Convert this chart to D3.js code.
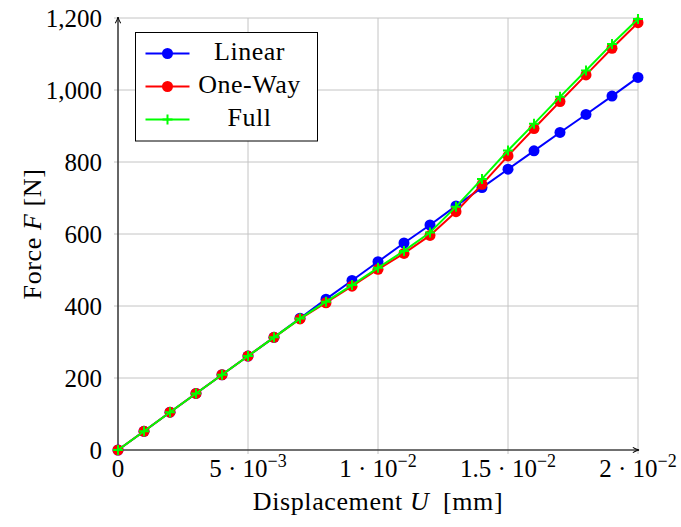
<!DOCTYPE html>
<html>
<head>
<meta charset="utf-8">
<script src="https://cdn.jsdelivr.net/npm/d3@7"></script>
<style>
  body { margin: 0; background: #fff; }
  svg text { font-family: "Liberation Serif", "DejaVu Serif", serif; fill: #000; }
</style>
</head>
<body>
<div id="chart-area"></div>
<script>
// data (displacement in mm, force in N)
const displacement = [0, 0.001, 0.002, 0.003, 0.004, 0.005, 0.006, 0.007, 0.008, 0.009, 0.010,
                      0.011, 0.012, 0.013, 0.014, 0.015, 0.016, 0.017, 0.018, 0.019, 0.020]
const linearF  = [0, 52, 105, 157, 209, 261, 313, 366, 419, 471, 523, 575, 625, 678, 729, 780, 831, 882, 932, 983, 1035]
const oneWayF  = [0, 52, 105, 157, 209, 261, 313, 364, 409, 455, 502, 546, 596, 662, 738, 817, 893, 968, 1042, 1116, 1187]
const fullF    = [0, 52, 105, 157, 209, 261, 313, 365, 412, 458, 506, 553, 604, 676, 753, 832, 906, 981, 1054, 1128, 1197]
const seriesNames = ["Linear", "One-Way", "Full"]
const xTicks = [0, 0.005, 0.01, 0.015, 0.02]
const xTickLabels = [["0", null], ["5", "−3"], ["1", "−2"], ["1.5", "−2"], ["2", "−2"]]
const yTicks = [0, 200, 400, 600, 800, 1000, 1200]

const margin = {top: 18, right: 43, bottom: 77, left: 118},
      width = 681 - margin.left - margin.right,
      height = 527 - margin.top - margin.bottom

const svg = d3.select("#chart-area")
  .append("svg")
    .attr("width", 681)
    .attr("height", 527)

const g = svg.append("g")
    .attr("transform", `translate(${margin.left},${margin.top})`)

const x = d3.scaleLinear().domain([0, 0.02]).range([0, width])
const y = d3.scaleLinear().domain([0, 1200]).range([height, 0])

// grid
g.append("g").selectAll("line").data(xTicks).join("line")
  .attr("x1", d => x(d)).attr("x2", d => x(d))
  .attr("y1", 0).attr("y2", height + 4)
  .attr("stroke", "#c4c4c4").attr("stroke-width", 1)
g.append("g").selectAll("line").data(yTicks).join("line")
  .attr("y1", d => y(d)).attr("y2", d => y(d))
  .attr("x1", -4).attr("x2", width)
  .attr("stroke", "#c4c4c4").attr("stroke-width", 1)

// arrow marker
svg.append("defs").append("marker")
  .attr("id", "arrow")
  .attr("viewBox", "0 0 10 10")
  .attr("refX", 9).attr("refY", 5)
  .attr("markerWidth", 7).attr("markerHeight", 7)
  .attr("orient", "auto")
  .append("path")
    .attr("d", "M1,1.5 Q5,4 9,5 Q5,6 1,8.5")
    .attr("fill", "none").attr("stroke", "#000").attr("stroke-width", 1.3)

g.append("line")
  .attr("x1", 0).attr("x2", width + 1).attr("y1", height).attr("y2", height)
  .attr("stroke", "#000").attr("stroke-width", 1.1).attr("marker-end", "url(#arrow)")
g.append("line")
  .attr("x1", 0).attr("x2", 0).attr("y1", height).attr("y2", -1)
  .attr("stroke", "#000").attr("stroke-width", 1.1).attr("marker-end", "url(#arrow)")

// tick labels
g.append("g").selectAll("text").data(yTicks).join("text")
  .attr("x", -16).attr("y", d => y(d) + 8.5)
  .attr("text-anchor", "end")
  .style("font-size", "25px")
  .text(d => d3.format(",")(d))

const xl = g.append("g").selectAll("text").data(xTicks).join("text")
  .attr("x", d => x(d)).attr("y", height + 27)
  .attr("text-anchor", "middle")
  .style("font-size", "25px")
xl.each(function(d, i) {
  const t = d3.select(this)
  const lab = xTickLabels[i]
  if (lab[1] === null) { t.text(lab[0]); return }
  t.append("tspan").text(lab[0] + " · 10")
  t.append("tspan").attr("dy", -10).style("font-size", "18px").text(lab[1])
})

// axis labels
g.append("text")
  .attr("x", 260).attr("y", height + 60)
  .attr("text-anchor", "middle").style("font-size", "26px")
  .style("letter-spacing", "0.6px")
  .call(t => {
    t.append("tspan").text("Displacement ")
    t.append("tspan").style("font-style", "italic").text("U")
    t.append("tspan").text("\u2002[mm]")
  })
g.append("text")
  .attr("transform", `translate(${-77},${height / 2}) rotate(-90)`)
  .attr("text-anchor", "middle").style("font-size", "26px")
  .style("letter-spacing", "0.6px")
  .call(t => {
    t.append("tspan").text("Force ")
    t.append("tspan").style("font-style", "italic").text("F")
    t.append("tspan").text(" [N]")
  })

// series
const series = [
  {name: seriesNames[0], values: linearF, color: "#0000ff", marker: "circle"},
  {name: seriesNames[1], values: oneWayF, color: "#ff0000", marker: "circle"},
  {name: seriesNames[2], values: fullF,   color: "#00ff00", marker: "plus"}
]

const line = d3.line().x(d => x(d[0])).y(d => y(d[1]))

function drawMarker(sel, s, cx, cy) {
  if (s.marker === "circle") {
    sel.append("circle").attr("cx", cx).attr("cy", cy).attr("r", 5.5).attr("fill", s.color)
  } else {
    sel.append("path")
      .attr("d", `M${cx - 5},${cy}H${cx + 5}M${cx},${cy - 5}V${cy + 5}`)
      .attr("stroke", s.color).attr("stroke-width", 2).attr("fill", "none")
  }
}

series.forEach(s => {
  const pts = displacement.map((d, i) => [d, s.values[i]])
  const sg = g.append("g")
  sg.append("path").datum(pts)
    .attr("d", line)
    .attr("fill", "none").attr("stroke", s.color).attr("stroke-width", 2)
  pts.forEach(p => drawMarker(sg, s, x(p[0]), y(p[1])))
})

// legend
const legend = svg.append("g").attr("transform", "translate(135.5,32.5)")
legend.append("rect")
  .attr("width", 182).attr("height", 108.5)
  .attr("fill", "#fff").attr("stroke", "#000").attr("stroke-width", 1)
series.forEach((s, i) => {
  const ly = 21 + i * 33
  legend.append("line")
    .attr("x1", 10).attr("x2", 54).attr("y1", ly).attr("y2", ly)
    .attr("stroke", s.color).attr("stroke-width", 2)
  drawMarker(legend, s, 32, ly)
  legend.append("text")
    .attr("x", 114).attr("y", ly + 6.5)
    .attr("text-anchor", "middle").style("font-size", "26px")
    .style("letter-spacing", "0.5px")
    .text(s.name)
})
</script>
</body>
</html>
